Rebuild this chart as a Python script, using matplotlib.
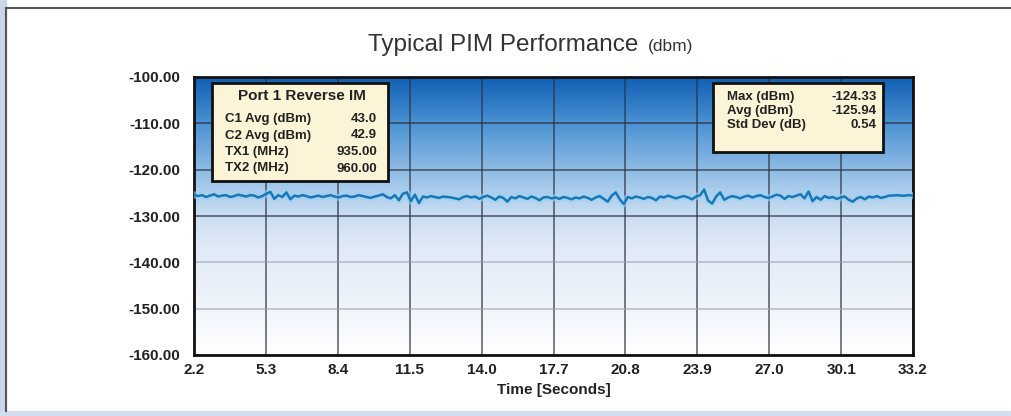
import numpy as np
import matplotlib
matplotlib.use('Agg')
import matplotlib.pyplot as plt
from matplotlib.colors import LinearSegmentedColormap
from matplotlib.patches import Rectangle

plt.rcParams['font.family'] = ['Liberation Sans', 'DejaVu Sans']

# pim level readings (dBm), sampled evenly over the run
pim = [-125.4, -125.7, -125.5, -125.9, -125.6, -125.3, -125.8, -125.6, -125.5, -125.9,
       -125.7, -125.4, -125.6, -125.8, -125.5, -125.6, -126.0, -125.7, -125.2, -124.8,
       -126.3, -125.5, -125.9, -124.9, -126.4, -125.6, -125.8, -125.5, -125.7, -126.0,
       -125.8, -125.6, -125.9, -125.7, -125.5, -125.8, -126.0, -125.7, -125.6, -125.9,
       -125.8, -125.5, -125.7, -125.9, -126.1, -125.8, -125.6, -125.3, -125.9, -126.2,
       -125.5, -126.6, -125.2, -124.9, -126.8, -125.4, -127.2, -125.8, -126.0, -125.7,
       -125.9, -126.1, -125.8, -125.9, -126.0, -126.2, -126.4, -125.9, -125.7, -126.0,
       -125.8, -126.3, -125.9, -125.6, -126.0, -126.5, -125.8, -126.1, -126.9, -125.9,
       -126.2, -125.7, -126.0, -126.3, -125.8, -126.1, -126.6, -126.0, -125.9, -126.2,
       -126.0, -126.3, -125.9, -126.1, -126.4, -126.0, -126.2, -125.8, -126.1, -126.5,
       -126.0, -125.7, -126.3, -126.9, -125.6, -124.9, -126.4, -127.4, -125.9, -126.2,
       -125.8, -126.0, -126.3, -125.9, -126.1, -126.6, -125.8, -126.0, -125.6, -125.9,
       -126.2, -125.9, -125.7, -126.0, -126.4, -125.8, -125.5, -124.3, -126.7, -127.3,
       -125.8, -124.9, -126.5, -126.0, -125.7, -125.9, -126.2, -125.8, -125.6, -126.0,
       -125.7, -125.5, -125.9, -126.1, -125.8, -125.4, -125.6, -126.3, -125.7, -125.9,
       -125.6, -125.3, -126.2, -124.7, -126.8, -125.9, -126.5, -125.7, -126.1, -125.9,
       -126.3, -126.0, -125.8, -126.5, -126.9, -126.2, -125.9, -126.4, -125.8, -126.0,
       -125.7, -126.1, -125.9, -125.6, -125.6, -125.5, -125.6, -125.6, -125.5, -125.6]
t_start, t_end = 2.2, 33.2
x_labels = ['2.2', '5.3', '8.4', '11.5', '14.0', '17.7', '20.8', '23.9', '27.0', '30.1', '33.2']
y_ticks = [-100, -110, -120, -130, -140, -150, -160]

port_title = 'Port 1 Reverse IM'
port_rows = ['C1 Avg (dBm)', 'C2 Avg (dBm)', 'TX1 (MHz)', 'TX2 (MHz)']
port_vals = ['43.0', '42.9', '935.00', '960.00']
stat_rows = ['Max (dBm)', 'Avg (dBm)', 'Std Dev (dB)']
stat_vals = ['-124.33', '-125.94', '0.54']

t = np.linspace(t_start, t_end, len(pim))

fig = plt.figure(figsize=(10.12, 4.16), dpi=100)
fig.patch.set_facecolor('white')

# screenshot frame
fig.patches.append(Rectangle((0, 0), 6/1012, 1, transform=fig.transFigure, color='#c9d5e8', zorder=0))
fig.patches.append(Rectangle((0, 0), 1, 5/416, transform=fig.transFigure, color='#d3deee', zorder=0))
fig.add_artist(plt.Line2D([6/1012, 6/1012], [5/416, 1-8/416], transform=fig.transFigure, color='#555555', lw=1.5))
fig.add_artist(plt.Line2D([6/1012, 1], [1-8/416, 1-8/416], transform=fig.transFigure, color='#555555', lw=1.5))

ax = fig.add_axes([194/1012, 1-355/416, (913-194)/1012, (355-77)/416])

cmap = LinearSegmentedColormap.from_list('bg', [
    (0.0, '#ffffff'), (0.2, '#eef3fa'), (0.4, '#dfe9f6'), (0.5, '#cadef2'),
    (0.6, '#a9cbec'), (0.68, '#8ab8e3'), (0.83, '#4d93d4'), (1.0, '#0f5fb3')])
grad = np.linspace(1, 0, 256).reshape(-1, 1)
ax.imshow(grad, cmap=cmap, aspect='auto', extent=[t_start, t_end, -160, -100], zorder=0, vmin=0, vmax=1)

ax.plot(t, pim, color='#9fd2f2', lw=5, alpha=0.6, zorder=3)
ax.plot(t, pim, color='#1678b8', lw=1.8, zorder=4)

ax.set_xlim(t_start, t_end)
ax.set_ylim(-160, -100)
ax.set_xticks(np.linspace(t_start, t_end, len(x_labels)))
ax.set_xticklabels(x_labels)
ax.set_yticks(y_ticks)
ax.set_yticklabels(['%.2f' % v for v in y_ticks])
ax.tick_params(length=0, labelsize=11, pad=10, colors='#222222')
for lab in ax.get_xticklabels() + ax.get_yticklabels():
    lab.set_fontweight('bold')
ax.tick_params(axis='x', pad=6)

ax.grid(True, color='#2a3142', lw=1.1, alpha=0.8, zorder=1)
for gl, v in zip(ax.get_ygridlines(), y_ticks):
    if v <= -140:
        gl.set_color('#9aa3b0')
        gl.set_alpha(0.7)
for s in ax.spines.values():
    s.set_linewidth(2)
    s.set_color('#111111')

ax.set_xlabel('Time [Seconds]', fontsize=11, fontweight='bold', labelpad=4, color='#222222')

fig.text(368/1012, 1-45/416, 'Typical PIM Performance', fontsize=17.5, ha='left', va='center', color='#333333')
fig.text(648/1012, 1-46/416, '(dbm)', fontsize=12.5, ha='left', va='center', color='#333333')

def px(xp, yp):
    return ((xp-194)/(913-194), (355-yp)/(355-77))

box_kw = dict(transform=ax.transAxes, facecolor='#fbf4d6', edgecolor='#111111', lw=2, zorder=6)
x0, y0 = px(212, 181)
x1, y1 = px(388, 83)
ax.add_patch(Rectangle((x0, y0), x1-x0, y1-y0, **box_kw))
xa, ya = px(302, 96)
ax.text(xa, ya, port_title, transform=ax.transAxes, ha='center', va='center', fontsize=11, fontweight='bold', zorder=7, color='#222222')
for i, (r, v) in enumerate(zip(port_rows, port_vals)):
    xl, yl = px(225, 119 + i*16.5)
    xr, _ = px(377, 0)
    ax.text(xl, yl, r, transform=ax.transAxes, ha='left', va='center', fontsize=9.5, fontweight='bold', zorder=7, color='#222222')
    ax.text(xr, yl, v, transform=ax.transAxes, ha='right', va='center', fontsize=9.5, fontweight='bold', zorder=7, color='#222222')

x0, y0 = px(713, 152)
x1, y1 = px(883, 83)
ax.add_patch(Rectangle((x0, y0), x1-x0, y1-y0, **box_kw))
for i, (r, v) in enumerate(zip(stat_rows, stat_vals)):
    xl, yl = px(727, 97 + i*14)
    xr, _ = px(877, 0)
    ax.text(xl, yl, r, transform=ax.transAxes, ha='left', va='center', fontsize=9.5, fontweight='bold', zorder=7, color='#222222')
    ax.text(xr, yl, v, transform=ax.transAxes, ha='right', va='center', fontsize=9.5, fontweight='bold', zorder=7, color='#222222')

fig.savefig('out.png', dpi=100)
